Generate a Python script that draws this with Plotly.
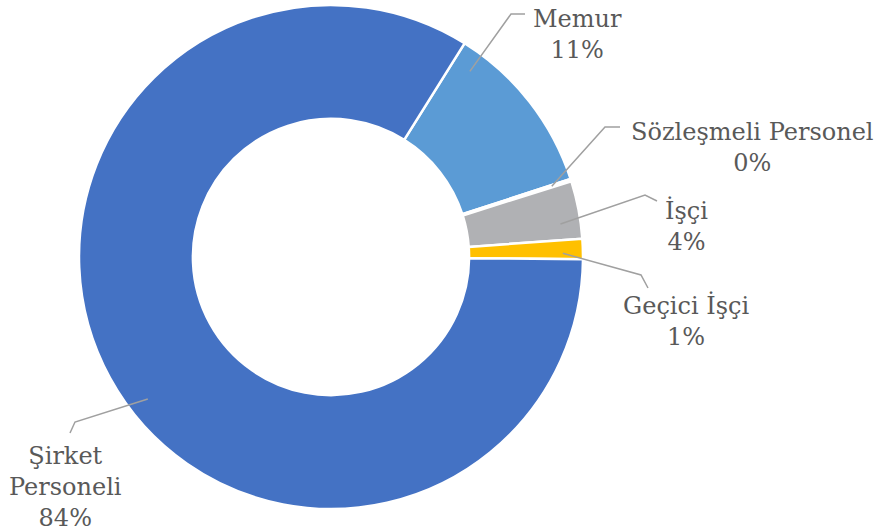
import math
import plotly.graph_objects as go

# ---- data ----
categories = ["Memur", "Sözleşmeli Personel", "İşçi", "Geçici İşçi", "Şirket Personeli"]
values = [11.1, 0.15, 3.7, 1.3, 83.75]
colors = ["#5B9BD5", "#ED7D31", "#B0B1B4", "#FFC000", "#4472C4"]

W, H = 878, 531
CX, CY, R = 331, 257, 252
ROTATION = 32
HOLE = 0.548

# label layout (pixel positions: label centre, elbow, line end near label,
# and where along the slice the leader line attaches, as fraction of slice)
label_pos = {
    "Memur": ((577, 34), (511, 14), (525, 14), 0.12),
    "Sözleşmeli Personel": ((752, 147), (605, 127), (620, 127), 0.5),
    "İşçi": ((686, 226), (645, 195), (657, 201), 0.7),
    "Geçici İşçi": ((686, 321), (641, 275), (648, 288), 0.7),
    "Şirket Personeli": ((65, 487), (75, 422), (70, 433), 0.47),
}
label_text = {"Şirket Personeli": "Şirket<br>Personeli"}


def px(x):
    return x / W


def py(y):
    return 1 - y / H


fig = go.Figure(go.Pie(
    labels=categories,
    values=values,
    hole=HOLE,
    sort=False,
    direction="clockwise",
    rotation=ROTATION,
    marker=dict(colors=colors, line=dict(color="white", width=2.5)),
    textinfo="none",
    hoverinfo="none",
    showlegend=False,
    domain=dict(x=[px(CX - R), px(CX + R)], y=[py(CY + R), py(CY - R)]),
))

total = sum(values)
cum = 0.0
shapes = []
annotations = []
for cat, v in zip(categories, values):
    (lx, ly), (ex, ey), (tx, ty), frac = label_pos[cat]
    ang = ROTATION + (cum + v * frac) / total * 360
    cum += v
    a = math.radians(ang)
    ax_ = CX + 0.92 * R * math.sin(a)
    ay_ = CY - 0.92 * R * math.cos(a)
    shapes.append(dict(
        type="path", xref="paper", yref="paper",
        path=f"M {px(ax_)} {py(ay_)} L {px(ex)} {py(ey)} L {px(tx)} {py(ty)}",
        line=dict(color="#A0A0A0", width=1.5),
    ))
    pct = round(v / total * 100)
    name = label_text.get(cat, cat)
    annotations.append(dict(
        x=px(lx), y=py(ly), xref="paper", yref="paper",
        text=f"{name}<br>{pct}%", showarrow=False, align="center",
        xanchor="center", yanchor="middle",
        font=dict(family="DejaVu Serif", size=24, color="#595959"),
    ))

fig.update_layout(
    width=W, height=H,
    margin=dict(l=0, r=0, t=0, b=0),
    paper_bgcolor="white", plot_bgcolor="white",
    shapes=shapes, annotations=annotations,
)
fig.write_html("out.html", config={"displayModeBar": False},
               post_script="document.body.style.margin='0';")
